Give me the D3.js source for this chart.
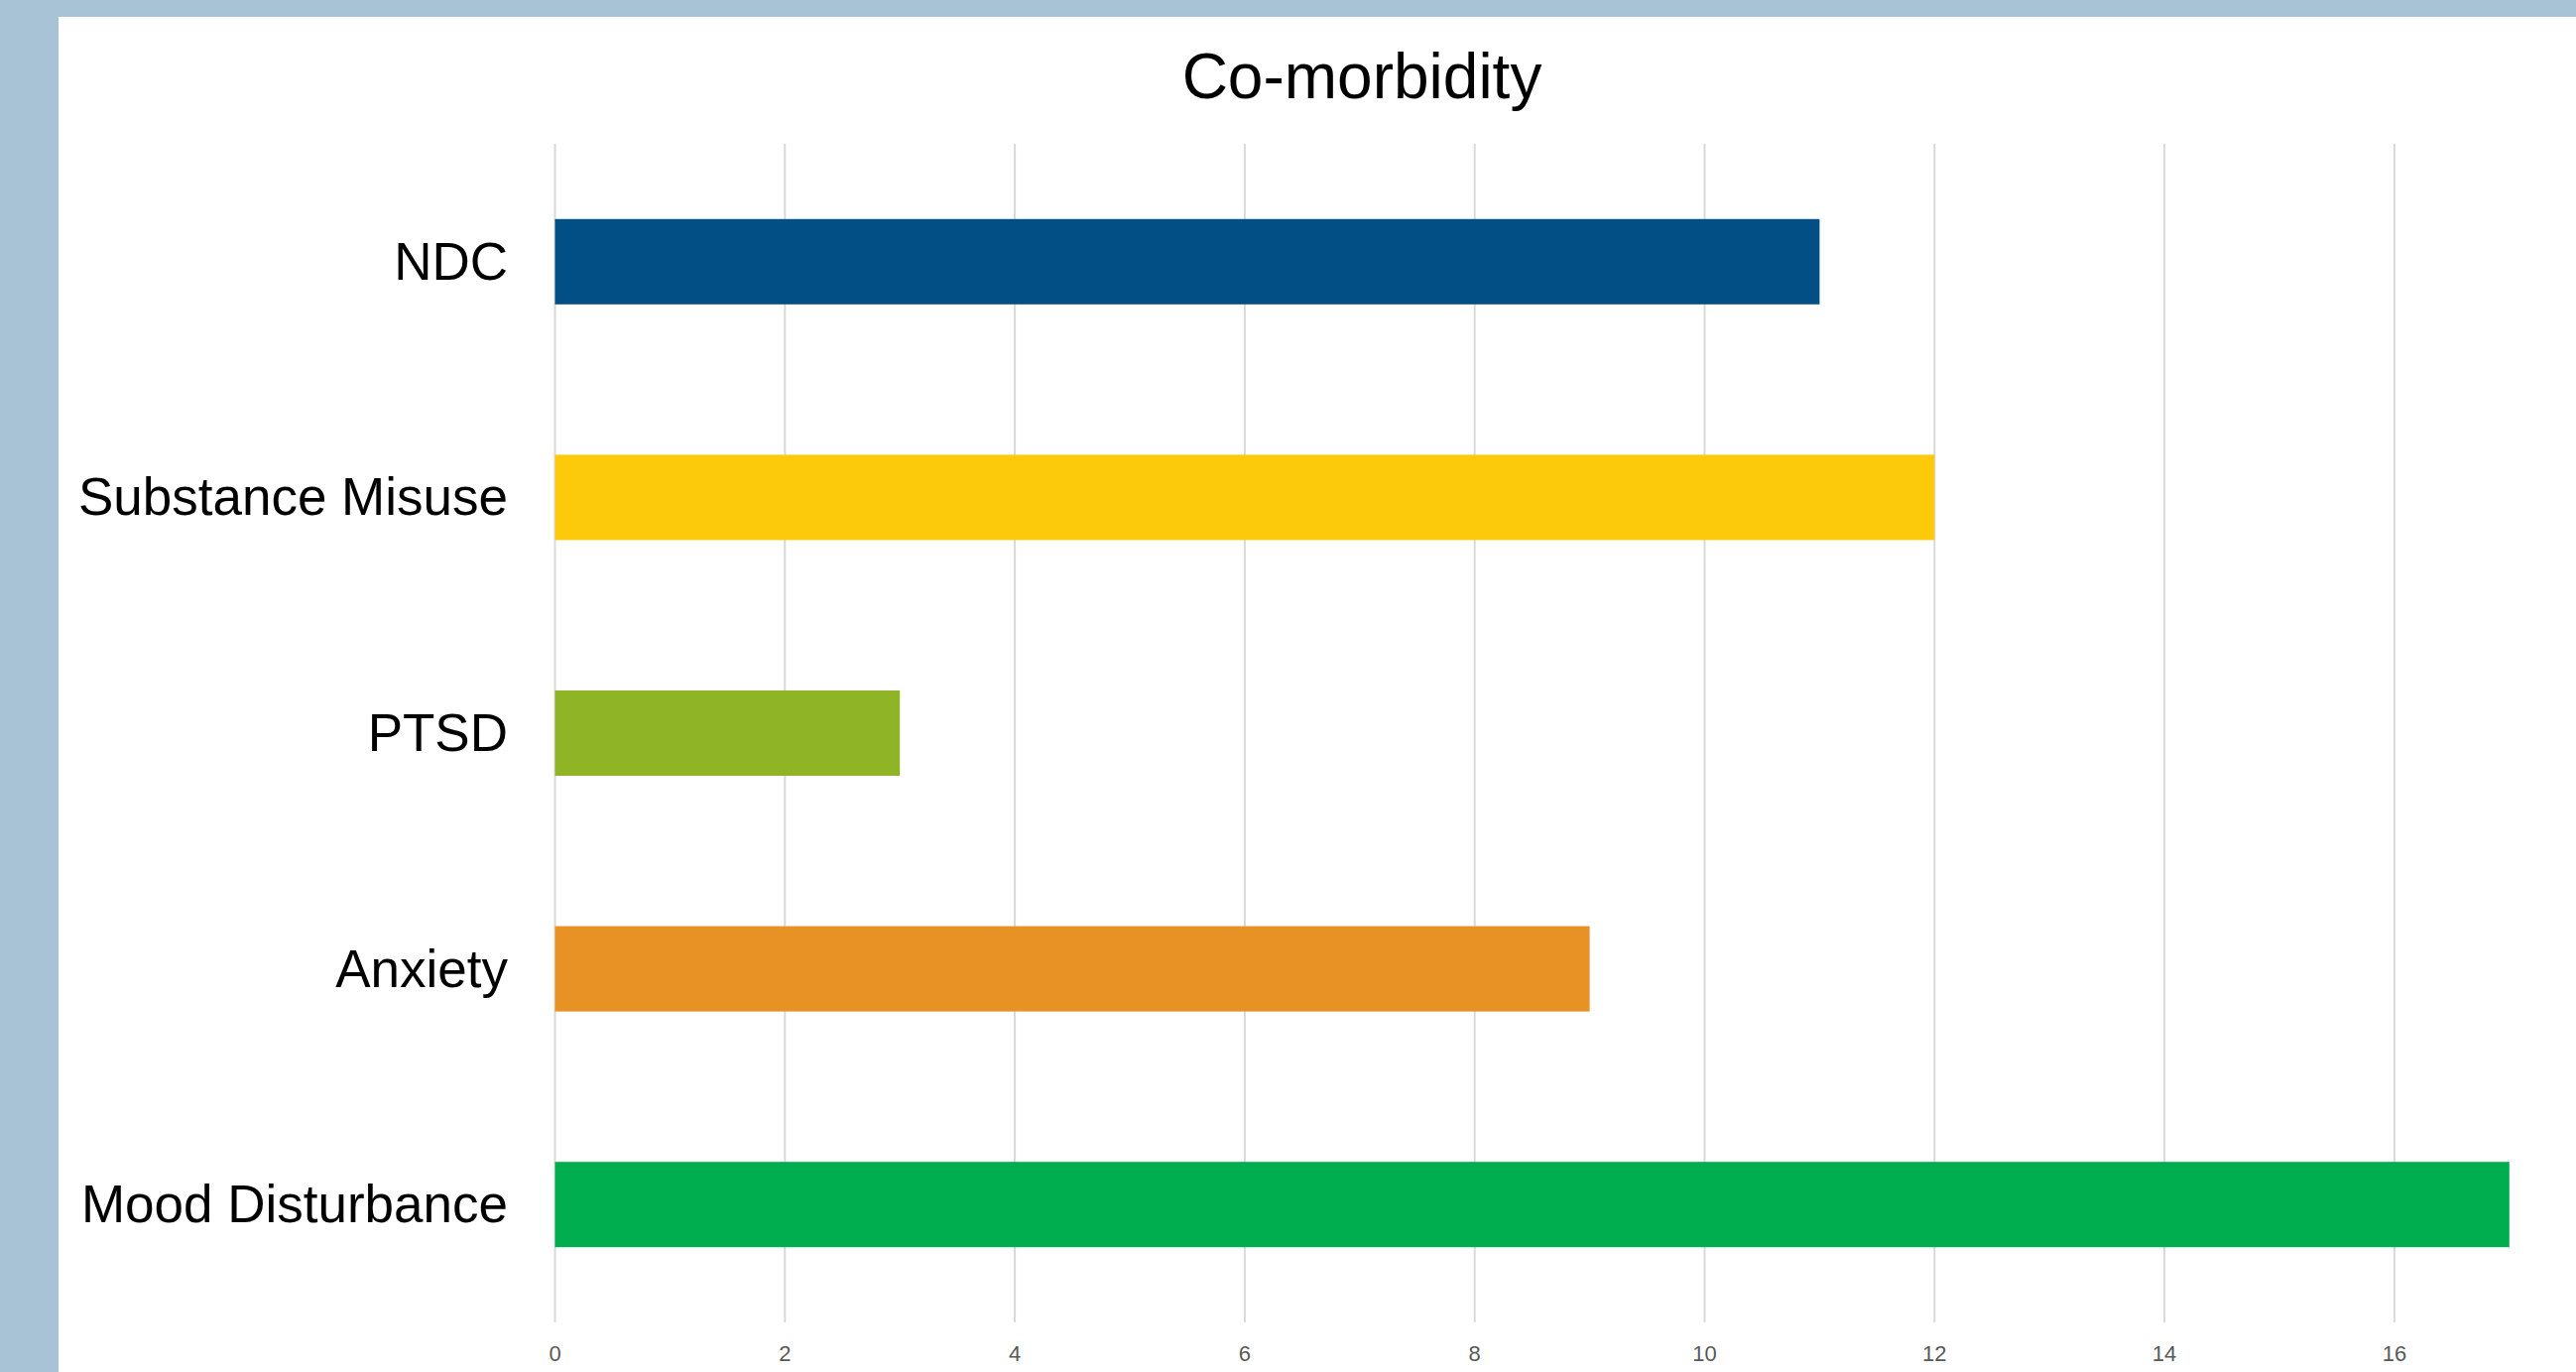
<!DOCTYPE html>
<html lang="en">
<head>
<meta charset="UTF-8" />
<title>Co-morbidity</title>
<style>
  html, body {
    margin: 0;
    padding: 0;
    background: #a8c2d6;
    overflow: hidden;
  }
  #chart {
    position: absolute;
    left: 0;
    top: 0;
  }
</style>
</head>
<body>
<div id="chart"></div>
<script src="https://d3js.org/d3.v7.min.js"></script>
<script>
  // data
  const categories = ["NDC", "Substance Misuse", "PTSD", "Anxiety", "Mood Disturbance"];
  const values = [11, 12, 3, 9, 17];
  const barColors = ["#024f86", "#fdc90b", "#8fb526", "#e89124", "#00ae50"];
  const tickValues = [0, 2, 4, 6, 8, 10, 12, 14, 16];
  const title = "Co-morbidity";

  const width = 2597, height = 1383;
  const plot = { left: 559.5, top: 145, bottom: 1333 };

  const svg = d3.select("#chart")
    .append("svg")
    .attr("width", width)
    .attr("height", height);

  // white panel inside the blue frame
  svg.append("rect")
    .attr("x", 59)
    .attr("y", 17)
    .attr("width", width - 59)
    .attr("height", height - 17)
    .attr("fill", "#ffffff");

  const x = d3.scaleLinear()
    .domain([0, 18])
    .range([plot.left, plot.left + 18 * 115.9]);

  const y = d3.scaleBand()
    .domain(categories)
    .range([plot.top, plot.bottom])
    .paddingInner(0.638)
    .paddingOuter(0.319);

  // vertical gridlines
  svg.append("g")
    .selectAll("line")
    .data(tickValues)
    .join("line")
    .attr("x1", d => x(d))
    .attr("x2", d => x(d))
    .attr("y1", plot.top)
    .attr("y2", plot.bottom)
    .attr("stroke", "#d9d9d9")
    .attr("stroke-width", 2);

  // tick labels
  svg.append("g")
    .selectAll("text")
    .data(tickValues)
    .join("text")
    .attr("x", d => x(d))
    .attr("y", 1372)
    .attr("text-anchor", "middle")
    .attr("font-family", "'Liberation Sans Narrow', 'Liberation Sans', Arial, sans-serif")
    .attr("font-size", 22)
    .attr("fill", "#595959")
    .text(d => d);

  // bars
  svg.append("g")
    .selectAll("rect")
    .data(categories)
    .join("rect")
    .attr("x", x(0))
    .attr("y", d => y(d))
    .attr("width", (d, i) => x(values[i]) - x(0))
    .attr("height", y.bandwidth())
    .attr("fill", (d, i) => barColors[i]);

  // category labels
  svg.append("g")
    .selectAll("text")
    .data(categories)
    .join("text")
    .attr("x", 512)
    .attr("y", d => y(d) + y.bandwidth() / 2)
    .attr("dy", "0.34em")
    .attr("text-anchor", "end")
    .attr("font-family", "'Liberation Sans', Arial, sans-serif")
    .attr("font-size", 53)
    .attr("fill", "#000000")
    .text(d => d);

  // title
  svg.append("text")
    .attr("x", 1373)
    .attr("y", 99)
    .attr("text-anchor", "middle")
    .attr("font-family", "'Liberation Sans', Arial, sans-serif")
    .attr("font-size", 64)
    .attr("fill", "#000000")
    .text(title);
</script>
</body>
</html>
